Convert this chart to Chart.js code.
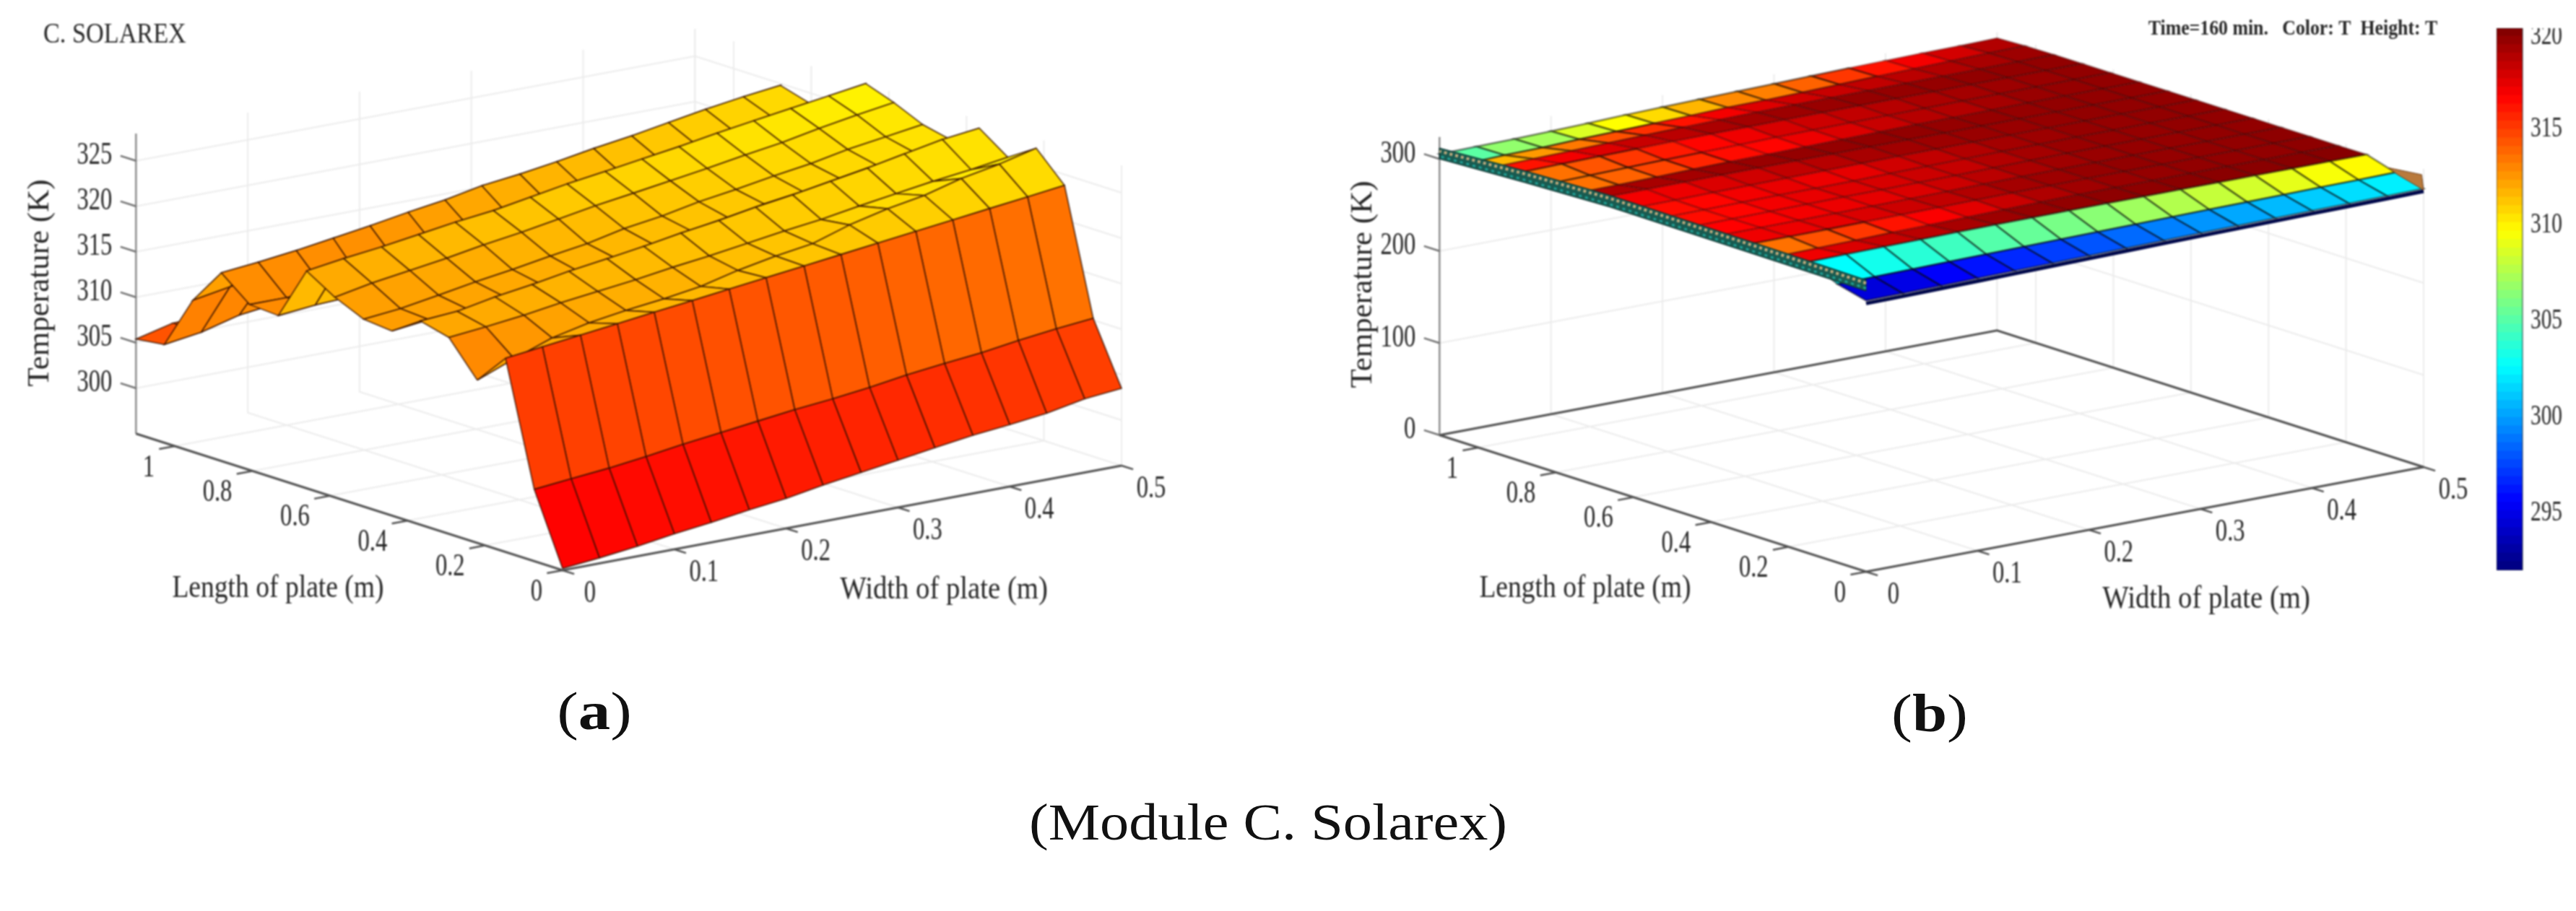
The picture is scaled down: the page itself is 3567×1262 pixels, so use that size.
<!DOCTYPE html>
<html>
<head>
<meta charset="utf-8">
<title>Module C. Solarex</title>
<script src="https://cdn.jsdelivr.net/npm/chart.js@4"></script>
<style>
    body { margin: 0; background: #fff; width: 3567px; height: 1262px; position: relative; overflow: hidden; }
    canvas { position: absolute; filter: blur(0.8px); }
    .caption { position: absolute; font-family: "Liberation Serif", serif; color: #111; white-space: nowrap; }
</style>
</head>
<body>
<canvas id="panelA"></canvas>
<canvas id="panelB"></canvas>
<canvas id="colorbar"></canvas>
<div class="caption" style="left:823px;top:985px;font-size:74px;transform:translate(-50%,-50%) scaleX(1.2)">(<b>a</b>)</div>
<div class="caption" style="left:2672px;top:988px;font-size:74px;transform:translate(-50%,-50%) scaleX(1.17)">(<b>b</b>)</div>
<div class="caption" style="left:1756px;top:1139px;font-size:72px;transform:translate(-50%,-50%) scaleX(1.115)">(Module C. Solarex)</div>
<script>
// Axis ticks
const lengthTicks = [0, 0.2, 0.4, 0.6, 0.8, 1];
const widthTicks = [0, 0.1, 0.2, 0.3, 0.4, 0.5];
const tempTicksA = [300, 305, 310, 315, 320, 325];
const tempTicksB = [0, 100, 200, 300];
const colorbarTicks = [295, 300, 305, 310, 315, 320];

// Mesh positions (m)
const lengthGrid = [0, 0.073, 0.147, 0.22, 0.293, 0.367, 0.44, 0.513, 0.587, 0.66, 0.733, 0.807, 0.88, 0.953, 1.027, 1.1];
const widthGrid = [0, 0.033, 0.067, 0.1, 0.133, 0.167, 0.2, 0.233, 0.267, 0.3, 0.333, 0.367, 0.4, 0.433, 0.467, 0.5];

// Temperature (K), one row per length position
const tempA = [
    [295.2, 295.6, 296.1, 296.7, 297.2, 297.8, 298.3, 299, 299.6, 300.2, 300.8, 301.4, 301.8, 302.3, 303.1, 303.5],
    [302.9, 303.3, 303.7, 304.2, 304.8, 305.3, 305.8, 306.3, 306.7, 307.2, 307.8, 308.3, 308.7, 309.3, 309.8, 310.2],
    [316.3, 316.8, 317.3, 317.8, 318.3, 318.8, 319.3, 319.8, 320.3, 320.8, 321.3, 321.8, 322.3, 322.8, 323.3, 323.8],
    [312.9, 314.5, 316, 316.9, 317.5, 318, 318.6, 319.6, 320.4, 321, 322.3, 323.3, 324, 325.1, 325.9, 326.9],
    [316.6, 317, 317.5, 318.1, 318.6, 319.1, 319.7, 320.2, 320.8, 321.4, 321.9, 322.6, 323.2, 323.8, 324.3, 324.9],
    [317.4, 317.7, 318.5, 319.1, 319.8, 320.4, 321, 321.7, 322.3, 323, 323.6, 324.3, 325, 325.8, 326.6, 327.1],
    [315.3, 315.8, 316.2, 316.8, 317.4, 318, 318.7, 319.5, 320.2, 320.9, 321.6, 322.2, 322.9, 323.6, 324.2, 324.8],
    [315.6, 316, 316.7, 317.4, 318, 318.7, 319.3, 320.2, 320.8, 321.6, 322.2, 322.9, 323.5, 324.3, 324.9, 325.5],
    [317, 317.8, 318.4, 319, 319.7, 320.3, 321, 321.7, 322.3, 322.9, 323.5, 324.2, 324.8, 325.6, 326.3, 326.9],
    [318.9, 319.5, 320, 320.6, 321.2, 321.7, 322.4, 323.1, 323.7, 324.3, 324.9, 325.6, 326.2, 326.8, 327.4, 328],
    [313, 313.4, 313.6, 314, 315, 315.8, 316.6, 317.4, 318.2, 318.9, 319.6, 320.2, 320.8, 321.4, 322, 322.5],
    [313.2, 313.2, 313.4, 313.6, 314.6, 315.6, 316.6, 317.5, 318.3, 319.1, 319.9, 320.7, 321.5, 322.3, 323.1, 323.9],
    [315.7, 316.1, 316.6, 317.2, 317.8, 318.5, 319.1, 319.9, 320.4, 321, 321.7, 322.3, 323, 323.7, 324.3, 324.8],
    [311.7, 312.4, 313, 313.6, 314.2, 314.8, 315.4, 316, 316.6, 317.2, 317.8, 318.4, 319, 319.6, 320.2, 320.8],
    [305.8, 306.4, 307.5, 308, 308.5, 309, 309.6, 310.2, 310.8, 311.4, 312, 312.6, 313.2, 313.8, 314.2, 314.3],
    [305.4, 306.4, 306.6, 306.9, 307.4, 308, 308.6, 309.2, 309.8, 310.4, 311, 311.6, 312.2, 312.8, 313.4, 313.9]
];

// Temperature (K)
const tempB = [
    [294.5, 294.8, 295.4, 296, 296.6, 297.2, 297.8, 298.4, 299, 299.6, 300.1, 300.6, 301.1, 301.6, 302.1, 302.6],
    [302.5, 303, 303.6, 304.2, 304.8, 305.3, 305.8, 306.3, 306.9, 307.4, 307.9, 308.3, 308.8, 309.3, 309.6, 310.2],
    [316.9, 317.5, 318, 318.4, 318.9, 319.2, 319.4, 319.5, 319.6, 319.6, 319.7, 319.7, 319.7, 319.8, 319.8, 319.8],
    [313.4, 314.3, 315, 316, 316.6, 317.3, 318, 318.7, 319.1, 319.3, 319.4, 319.5, 319.5, 319.5, 319.6, 319.6],
    [316.9, 317, 317.2, 317.5, 317.9, 318.2, 318.6, 319, 319.2, 319.4, 319.5, 319.4, 319.5, 319.5, 319.6, 319.6],
    [316.5, 316.6, 316.8, 317, 317.2, 317.5, 317.9, 318.4, 318.8, 319.1, 319.3, 319.4, 319.4, 319.5, 319.5, 319.6],
    [316.2, 316.4, 316.8, 317.1, 317.4, 317.6, 317.9, 318.1, 318.6, 319, 319.3, 319.4, 319.4, 319.5, 319.5, 319.6],
    [316.2, 316.4, 316.8, 317.1, 317, 317.2, 317.8, 318.2, 318.6, 319, 319.2, 319.4, 319.4, 319.5, 319.5, 319.6],
    [316.8, 317, 317.5, 317.8, 318.2, 318.5, 318.9, 319.1, 319.2, 319.3, 319.3, 319.4, 319.5, 319.5, 319.5, 319.6],
    [318.7, 318.9, 319, 319.2, 319.3, 319.4, 319.4, 319.5, 319.5, 319.4, 319.4, 319.4, 319.5, 319.5, 319.5, 319.6],
    [313.4, 313.8, 314.6, 315.5, 316.2, 316.4, 317, 317.5, 318, 318.5, 318.6, 319, 319.3, 319.4, 319.5, 319.6],
    [313.4, 314.2, 315, 315.8, 316.4, 316.9, 317.6, 317.9, 318.2, 318.5, 318.8, 319, 319.2, 319.3, 319.5, 319.5],
    [316, 316.8, 317.4, 318, 318.4, 318.8, 319, 319.2, 319.3, 319.4, 319.4, 319.4, 319.5, 319.5, 319.5, 319.6],
    [311.5, 312.3, 313.2, 314.3, 315.2, 316, 316.8, 317.4, 317.8, 318, 318.2, 318.4, 318.6, 318.9, 319.2, 319.4],
    [305, 306.5, 307, 308.5, 309.5, 310.5, 311.5, 312.7, 313, 313.8, 315, 316, 316.8, 317.7, 318.6, 319],
    [305.4, 306, 306.6, 307.5, 308.6, 310, 311, 312, 312.8, 313.6, 314.5, 315.3, 316, 316.6, 317, 317.6]
];

// Side skirt of the panel b sheet
const skirtLength = [0, 0.147, 0.66, 0.88, 1.1];
const skirtTop = [317, 318, 320, 317, 312];
const skirtBottom = [305, 305.5, 307, 304, 300];
const endLength = [0.09, 0.005, 0, 0.067];
const endTemp = [313, 317, 301, 308.6];

const LENGTH_MAX = 1.1;
const WIDTH_MAX = 0.5;

// Oblique projection of the 3D box onto the page
function makeProjection(cfg) {
    return (len, wid, temp) => ({
        x: cfg.ox + len * cfg.lx + wid * cfg.wx,
        y: cfg.oy + len * cfg.ly + wid * cfg.wy - (temp - cfg.zMin) * cfg.zy
    });
}

function autumn(temp) {
    const g = Math.max(0, Math.min(1, (temp - 295) / 33));
    return `rgb(255, ${Math.round(g * 255)}, 0)`;
}

function jet(temp) {
    const t = Math.max(0, Math.min(1, (temp - 292) / 28));
    const band = v => Math.round(255 * Math.max(0, Math.min(1, 1.5 - Math.abs(4 * t - v))));
    return `rgb(${band(3)}, ${band(2)}, ${band(1)})`;
}

function polygon(points, color, border, borderWidth) {
    return {
        data: [...points, points[0]],
        showLine: true,
        fill: 'shape',
        backgroundColor: color,
        borderColor: border,
        borderWidth: borderWidth,
        pointRadius: 0,
        tension: 0
    };
}

function line(points, color, width, dash) {
    return {
        data: points,
        showLine: true,
        fill: false,
        borderColor: color,
        borderWidth: width,
        borderDash: dash || [],
        pointRadius: 0,
        tension: 0
    };
}

// Grid walls, floor, axes and tick marks
function frameDatasets(cfg, tempTicks, gridColor) {
    const p = makeProjection(cfg);
    const out = [];
    tempTicks.forEach(t => {
        out.push(line([p(LENGTH_MAX, 0, t), p(LENGTH_MAX, WIDTH_MAX, t), p(0, WIDTH_MAX, t)], gridColor, 2));
    });
    widthTicks.slice(1).forEach(w => {
        out.push(line([p(LENGTH_MAX, w, cfg.zMax), p(LENGTH_MAX, w, cfg.zMin), p(0, w, cfg.zMin)], gridColor, 2));
    });
    lengthTicks.forEach(l => {
        out.push(line([p(l, WIDTH_MAX, cfg.zMax), p(l, WIDTH_MAX, cfg.zMin)], gridColor, 2));
        if (l > 0) out.push(line([p(l, WIDTH_MAX, cfg.zMin), p(l, 0, cfg.zMin)], gridColor, 2));
    });
    out.push(line([p(LENGTH_MAX, WIDTH_MAX, cfg.zMax), p(LENGTH_MAX, WIDTH_MAX, cfg.zMin)], gridColor, 2));

    out.push(line([p(LENGTH_MAX, 0, cfg.zMax), p(LENGTH_MAX, 0, cfg.zMin)], '#8c8c8c', 2.5));
    out.push(line([p(LENGTH_MAX, 0, cfg.zMin), p(0, 0, cfg.zMin), p(0, WIDTH_MAX, cfg.zMin)], '#505050', 3));
    if (cfg.fullBox) {
        out.push(line([p(LENGTH_MAX, 0, cfg.zMin), p(LENGTH_MAX, WIDTH_MAX, cfg.zMin), p(0, WIDTH_MAX, cfg.zMin)], '#505050', 3));
    }

    tempTicks.forEach(t => out.push(line([p(LENGTH_MAX, 0, t), p(LENGTH_MAX + 0.04, 0, t)], '#707070', 2.5)));
    lengthTicks.forEach(l => out.push(line([p(l, 0, cfg.zMin), p(l, -0.014, cfg.zMin)], '#505050', 2.5)));
    widthTicks.forEach(w => out.push(line([p(0, w, cfg.zMin), p(-0.03, w, cfg.zMin)], '#505050', 2.5)));
    return out;
}

// Mesh cells drawn far to near so the nearer ones hide the rest
function surfaceDatasets(cfg, temps, colorOf, edgeOf, edgeWidth) {
    const p = makeProjection(cfg);
    const out = [];
    for (let i = lengthGrid.length - 2; i >= 0; i--) {
        for (let j = widthGrid.length - 2; j >= 0; j--) {
            const cell = [
                p(lengthGrid[i], widthGrid[j], temps[i][j]),
                p(lengthGrid[i + 1], widthGrid[j], temps[i + 1][j]),
                p(lengthGrid[i + 1], widthGrid[j + 1], temps[i + 1][j + 1]),
                p(lengthGrid[i], widthGrid[j + 1], temps[i][j + 1])
            ];
            out.push(polygon(cell, colorOf(temps[i][j]), edgeOf(temps[i][j]), edgeWidth));
        }
    }
    return out;
}

function axisLabels(cfg, tempTicks, extra) {
    const p = makeProjection(cfg);
    const labels = [];
    tempTicks.forEach(t => {
        const pos = p(LENGTH_MAX, 0, t);
        labels.push({ text: String(t), x: pos.x - 33, y: pos.y - 7, align: 'right', size: 44, squeeze: 0.74 });
    });
    lengthTicks.forEach(l => {
        const pos = p(l, 0, cfg.zMin);
        labels.push({ text: String(l), x: pos.x - 28, y: pos.y + 30, align: 'right', size: 44, squeeze: 0.74 });
    });
    widthTicks.forEach(w => {
        const pos = p(0, w, cfg.zMin);
        labels.push({ text: String(w), x: pos.x + (w === 0 ? 38 : 41), y: pos.y + 32, align: 'center', size: 44, squeeze: 0.74 });
    });
    return labels.concat(extra);
}

const textPlugin = {
    id: 'pageText',
    afterDraw(chart, args, opts) {
        const ctx = chart.ctx;
        (opts.labels || []).forEach(l => {
            ctx.save();
            ctx.fillStyle = l.color || '#262626';
            ctx.font = `${l.weight || 'normal'} ${l.size}px "Liberation Serif", serif`;
            ctx.textAlign = l.align || 'center';
            ctx.textBaseline = 'middle';
            ctx.translate(chart.scales.x.getPixelForValue(l.x), chart.scales.y.getPixelForValue(l.y));
            if (l.rotate) ctx.rotate(l.rotate);
            const width = ctx.measureText(l.text).width;
            ctx.fillText(l.text, 0, 0, width * (l.squeeze || 1));
            ctx.restore();
        });
    }
};

// One canvas per panel, its scales run in page pixels
function drawPanel(id, box, datasets, labels) {
    const canvas = document.getElementById(id);
    canvas.width = box.width;
    canvas.height = box.height;
    canvas.style.left = box.left + 'px';
    canvas.style.top = box.top + 'px';
    return new Chart(canvas, {
        type: 'scatter',
        data: { datasets: datasets.reverse() },
        options: {
            responsive: false,
            animation: false,
            events: [],
            layout: { padding: 0 },
            scales: {
                x: { type: 'linear', display: false, min: box.left, max: box.left + box.width },
                y: { type: 'linear', display: false, reverse: true, min: box.top, max: box.top + box.height }
            },
            plugins: {
                legend: { display: false },
                tooltip: { enabled: false },
                pageText: { labels: labels }
            }
        },
        plugins: [textPlugin]
    });
}

// Panel a
const cfgA = { ox: 779, oy: 790, lx: -537, ly: -172, wx: 1548, wy: -290, zMin: 295, zMax: 328, zy: 12.6 };
drawPanel('panelA', { left: 0, top: 0, width: 1760, height: 900 },
    [
        ...frameDatasets(cfgA, tempTicksA, '#ececec'),
        ...surfaceDatasets(cfgA, tempA, autumn, () => 'rgba(50, 15, 0, 0.85)', 1.6)
    ],
    axisLabels(cfgA, tempTicksA, [
        { text: 'C. SOLAREX', x: 60, y: 48, align: 'left', size: 41, squeeze: 0.835 },
        { text: 'Temperature (K)', x: 56, y: 392, size: 43, rotate: -Math.PI / 2 },
        { text: 'Length of plate (m)', x: 385, y: 815, size: 45, squeeze: 0.835 },
        { text: 'Width of plate (m)', x: 1307, y: 817, size: 45, squeeze: 0.86 }
    ]));

// Panel b
const cfgB = { ox: 2584, oy: 792, lx: -537, ly: -172, wx: 1544, wy: -290, zMin: 0, zMax: 324, zy: 1.275, fullBox: true };
const projectB = makeProjection(cfgB);
const edgeB = temp => temp > 315.5 ? 'rgba(50, 0, 0, 0.3)' : 'rgba(0, 0, 0, 0.5)';
drawPanel('panelB', { left: 1780, top: 0, width: 1670, height: 900 },
    [
        ...frameDatasets(cfgB, tempTicksB, '#ececec'),
        line(widthGrid.map((w, j) => projectB(0, w, tempB[0][j] - 3)), '#00084a', 5),
        ...surfaceDatasets(cfgB, tempB, jet, edgeB, 2.5),
        polygon([
            ...skirtLength.map((l, k) => projectB(l, 0, skirtTop[k])),
            ...skirtLength.map((l, k) => projectB(l, 0, skirtBottom[k])).reverse()
        ], '#185a50', '#0b2f2c', 1),
        line(skirtLength.map((l, k) => projectB(l, 0, skirtTop[k] - 3.5)), '#c4ad7e', 4, [4, 4]),
        line(skirtLength.map((l, k) => projectB(l, 0, skirtBottom[k] + 3)), '#22a59a', 3, [4, 5]),
        polygon(endLength.map((l, k) => projectB(l, WIDTH_MAX, endTemp[k])), '#b97a3c', '#6a3d18', 1)
    ],
    axisLabels(cfgB, tempTicksB, [
        { text: 'Temperature (K)', x: 1888, y: 394, size: 43, rotate: -Math.PI / 2 },
        { text: 'Length of plate (m)', x: 2195, y: 815, size: 45, squeeze: 0.835 },
        { text: 'Width of plate (m)', x: 3055, y: 830, size: 45, squeeze: 0.86 },
        { text: 'Time=160 min.   Color: T  Height: T', x: 3175, y: 40, size: 30, weight: 'bold', squeeze: 0.86 }
    ]));

// Colour bar, jet levels stacked along its own temperature axis
const barMin = 291.92;
const barMax = 320.11;
const levelCount = 64;
const barSets = [];
for (let k = 0; k < levelCount; k++) {
    const lo = barMin + (barMax - barMin) * k / levelCount;
    const hi = barMin + (barMax - barMin) * (k + 1) / levelCount;
    barSets.push({ data: [[lo, hi + 0.03]], backgroundColor: jet((lo + hi) / 2), borderWidth: 0, barPercentage: 1, categoryPercentage: 1 });
}
const barCanvas = document.getElementById('colorbar');
barCanvas.width = 110;
barCanvas.height = 751;
barCanvas.style.left = '3457px';
barCanvas.style.top = '39px';
new Chart(barCanvas, {
    type: 'bar',
    data: { labels: ['T'], datasets: barSets },
    options: {
        responsive: false,
        animation: false,
        events: [],
        layout: { padding: { right: 74 } },
        datasets: { bar: { grouped: false } },
        scales: {
            x: { display: false },
            y: { display: false, min: barMin, max: barMax }
        },
        plugins: { legend: { display: false }, tooltip: { enabled: false } }
    },
    plugins: [{
        id: 'barTicks',
        afterDraw(chart) {
            const ctx = chart.ctx;
            const area = chart.chartArea;
            ctx.save();
            ctx.strokeStyle = 'rgba(20, 30, 40, 0.6)';
            ctx.lineWidth = 1.5;
            ctx.strokeRect(area.left, area.top, area.right - area.left, area.bottom - area.top);
            ctx.fillStyle = '#262626';
            ctx.font = '40px "Liberation Serif", serif';
            ctx.textAlign = 'left';
            ctx.textBaseline = 'middle';
            colorbarTicks.forEach(t => {
                const y = Math.max(chart.scales.y.getPixelForValue(t), 8);
                ctx.fillText(String(t), area.right + 11, y + 3, 44);
            });
            ctx.restore();
        }
    }]
});
</script>
</body>
</html>
